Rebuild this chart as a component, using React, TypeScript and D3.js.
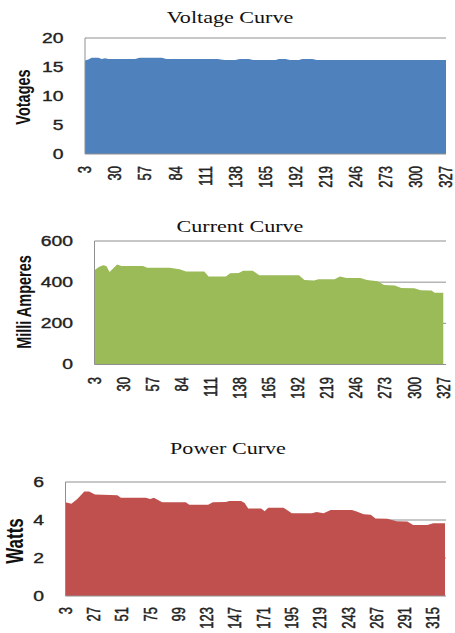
import React from "react";
import * as d3 from "d3";

// ---------- data ----------
const voltageX = [3, 6, 9, 15, 18, 21, 24, 48, 52, 72, 76, 122, 128, 138, 142, 150, 154, 174, 177, 183, 187, 195, 198, 207, 211, 327];
const voltageY = [16.1, 16.3, 16.6, 16.6, 16.4, 16.5, 16.4, 16.4, 16.6, 16.6, 16.4, 16.4, 16.2, 16.2, 16.4, 16.4, 16.2, 16.2, 16.4, 16.4, 16.2, 16.2, 16.4, 16.4, 16.2, 16.2];

const currentX = [3, 7, 11, 14, 17, 21, 24, 28, 48, 52, 73, 82, 88, 105, 109, 125, 129, 137, 141, 150, 156, 193, 198, 207, 211, 226, 231, 237, 250, 256, 266, 272, 282, 288, 300, 306, 316, 319, 327];
const currentY = [458, 474, 482, 478, 449, 470, 486, 478, 478, 470, 470, 463, 452, 452, 428, 428, 443, 445, 456, 456, 434, 434, 410, 408, 414, 414, 427, 420, 420, 410, 405, 386, 384, 372, 370, 361, 360, 348, 348];

const powerX = [3, 8, 13, 19, 23, 28, 47, 50, 71, 75, 78, 85, 105, 108, 124, 128, 139, 142, 152, 155, 158, 169, 172, 175, 188, 195, 212, 216, 222, 228, 246, 250, 256, 262, 266, 276, 284, 293, 298, 310, 315, 325];
const powerY = [4.94, 4.85, 5.1, 5.5, 5.5, 5.34, 5.3, 5.17, 5.17, 5.1, 5.17, 4.94, 4.94, 4.8, 4.8, 4.94, 4.95, 5.0, 5.0, 4.9, 4.6, 4.6, 4.46, 4.65, 4.65, 4.36, 4.36, 4.42, 4.36, 4.53, 4.53, 4.45, 4.3, 4.28, 4.08, 4.06, 3.93, 3.92, 3.74, 3.74, 3.83, 3.83];

const voltageTicksY = [0, 5, 10, 15, 20];
const currentTicksY = [0, 200, 400, 600];
const powerTicksY = [0, 2, 4, 6];
const vcTicksX = [3, 30, 57, 84, 111, 138, 165, 192, 219, 246, 273, 300, 327];
const powerTicksX = [3, 27, 51, 75, 99, 123, 147, 171, 195, 219, 243, 267, 291, 315];

const STRETCH = 1.38;
const GRID = "#8f8f8f";

type PanelProps = {
  title: string;
  yLabel: string;
  xs: number[];
  ys: number[];
  color: string;
  yTicks: number[];
  xTicks: number[];
  xDomain: [number, number];
  left: number;
  top: number;
  bottom: number;
  areaRight: number;
  gridRight: number;
  titleX: number;
  titleY: number;
  tickRight: number;
  yLabelX: number;
  yLabelY: number;
  yLabelSize: number;
  xLabelGap: number;
};

function Panel(p: PanelProps) {
  const x = d3.scaleLinear().domain(p.xDomain).range([p.left, p.areaRight]);
  const yMax = p.yTicks[p.yTicks.length - 1];
  const y = d3.scaleLinear().domain([0, yMax]).range([p.bottom, p.top]);
  const pts = p.xs.map((v, i) => [v, p.ys[i]] as [number, number]);
  const area = d3
    .area<[number, number]>()
    .x((d) => x(d[0]))
    .y0(y(0))
    .y1((d) => y(d[1]));
  return (
    <g>
      <text
        transform={`translate(${p.titleX},${p.titleY}) scale(${STRETCH},1)`}
        textAnchor="middle"
        fontFamily="'Liberation Serif', serif"
        fontSize={16}
        fill="#111"
      >
        {p.title}
      </text>
      {p.yTicks
        .filter((t) => t !== 0)
        .map((t) => (
          <line key={"g" + t} x1={p.left} x2={p.gridRight} y1={y(t)} y2={y(t)} stroke={GRID} strokeWidth={1} />
        ))}
      <path d={area(pts) || ""} fill={p.color} />
      <line x1={p.left} x2={p.left} y1={p.top} y2={p.bottom} stroke={GRID} strokeWidth={1} />
      <line x1={p.left} x2={p.gridRight} y1={p.bottom} y2={p.bottom} stroke={GRID} strokeWidth={1} />
      {p.yTicks.map((t) => (
        <text
          key={"yt" + t}
          transform={`translate(${p.tickRight},${y(t)}) scale(${STRETCH},1)`}
          textAnchor="end"
          dy="0.35em"
          fontFamily="'Liberation Sans', sans-serif"
          fontSize={14}
          fill="#222"
          stroke="#222"
          strokeWidth={0.35}
        >
          {t}
        </text>
      ))}
      {p.xTicks.map((t) => (
        <text
          key={"xt" + t}
          transform={`translate(${x(t)},${p.bottom + p.xLabelGap}) scale(${STRETCH},1) rotate(-90)`}
          textAnchor="end"
          dy="0.35em"
          fontFamily="'Liberation Sans', sans-serif"
          fontSize={13}
          fill="#222"
          stroke="#222"
          strokeWidth={0.35}
        >
          {t}
        </text>
      ))}
      <text
        transform={`translate(${p.yLabelX},${p.yLabelY}) scale(${STRETCH},1) rotate(-90)`}
        textAnchor="middle"
        dy="0.35em"
        fontFamily="'Liberation Sans', sans-serif"
        fontWeight="bold"
        fontSize={p.yLabelSize}
        fill="#111"
      >
        {p.yLabel}
      </text>
    </g>
  );
}

export default function App() {
  return (
    <svg
      width={455}
      height={633}
      style={{ position: "absolute", left: 0, top: 0, background: "#fff" }}
    >
      <Panel
        title="Voltage Curve"
        yLabel="Votages"
        xs={voltageX}
        ys={voltageY}
        color="#4F81BD"
        yTicks={voltageTicksY}
        xTicks={vcTicksX}
        xDomain={[3, 327]}
        left={85}
        top={38}
        bottom={154}
        areaRight={446}
        gridRight={446}
        titleX={230}
        titleY={22.5}
        tickRight={63.5}
        yLabelX={23}
        yLabelY={97}
        yLabelSize={14.5}
        xLabelGap={12}
      />
      <Panel
        title="Current Curve"
        yLabel="Milli Amperes"
        xs={currentX}
        ys={currentY}
        color="#9BBB59"
        yTicks={currentTicksY}
        xTicks={vcTicksX}
        xDomain={[3, 327]}
        left={94.5}
        top={241}
        bottom={364.5}
        areaRight={443.3}
        gridRight={446}
        titleX={240}
        titleY={231.5}
        tickRight={73}
        yLabelX={23.5}
        yLabelY={302}
        yLabelSize={14.5}
        xLabelGap={12.5}
      />
      <Panel
        title="Power Curve"
        yLabel="Watts"
        xs={powerX}
        ys={powerY}
        color="#C0504D"
        yTicks={powerTicksY}
        xTicks={powerTicksX}
        xDomain={[3, 325]}
        left={65.5}
        top={482}
        bottom={596}
        areaRight={445}
        gridRight={446}
        titleX={228}
        titleY={454.3}
        tickRight={44}
        yLabelX={15}
        yLabelY={541}
        yLabelSize={17}
        xLabelGap={11}
      />
    </svg>
  );
}
